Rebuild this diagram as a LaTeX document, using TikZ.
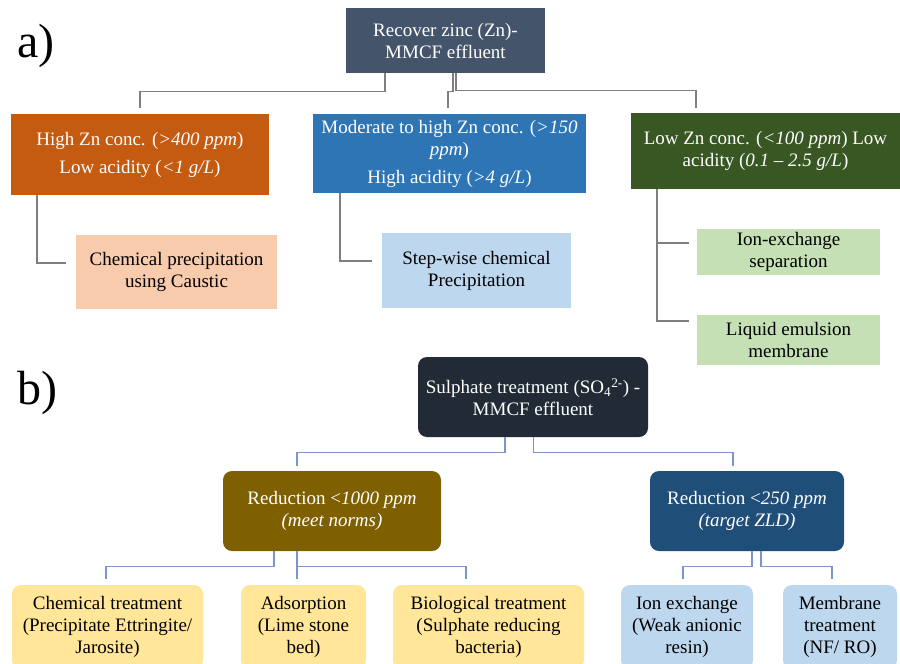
\documentclass[tikz,border=0pt]{standalone}
\usepackage{fontspec}
\setmainfont{Liberation Serif}
\definecolor{topA}{HTML}{44546A}
\definecolor{orangeA}{HTML}{C55A11}
\definecolor{blueA}{HTML}{2E75B6}
\definecolor{greenA}{HTML}{385723}
\definecolor{peach}{HTML}{F8CBAD}
\definecolor{lblue}{HTML}{BDD7EE}
\definecolor{lgreen}{HTML}{C5E0B4}
\definecolor{topB}{HTML}{222A35}
\definecolor{brownB}{HTML}{7F6000}
\definecolor{navyB}{HTML}{1F4E79}
\definecolor{yellowB}{HTML}{FFE699}
\definecolor{lineA}{HTML}{7F7F7F}
\definecolor{lineB}{HTML}{7D96C8}
\tikzset{
  box/.style={rectangle, inner sep=0pt, align=center, font=\fontsize{19}{22}\selectfont},
  darkbox/.style={box, text=white},
  lightbox/.style={box, text=black},
  rbox/.style={rounded corners=9pt},
  conA/.style={draw=lineA, line width=1.3pt},
  conB/.style={draw=lineB, line width=1.3pt},
  tag/.style={inner sep=0pt, font=\fontsize{48}{50}\selectfont}
}
\begin{document}
\begin{tikzpicture}[x=1pt,y=-1pt]
\fill[white] (0,0) rectangle (900,664);
\useasboundingbox (0,0) rectangle (900,664);

% ---------- part a ----------
\node[tag] (la) at (36,46) {a)};
\node[darkbox, fill=topA, minimum width=199pt, minimum height=65pt] (tA) at (445.5,40.5)
  {Recover zinc (Zn)-\\MMCF effluent};
\node[darkbox, fill=orangeA, minimum width=258pt, minimum height=81pt] (hiZn) at (140,154.5)
  {High Zn conc. (\textit{>400 ppm})\\[6pt]Low acidity (\textit{<1 g/L})};
\node[darkbox, fill=blueA, minimum width=273pt, minimum height=79pt] (modZn) at (449.5,153.5)
  {Moderate to high Zn conc. (\textit{>150}\\\textit{ppm})\\[6pt]High acidity (\textit{>4 g/L})};
\node[darkbox, fill=greenA, minimum width=269pt, minimum height=76pt] (lowZn) at (765.5,151)
  {Low Zn conc. (\textit{<100 ppm}) Low\\acidity (\textit{0.1 – 2.5 g/L})};
\node[lightbox, fill=peach, minimum width=201pt, minimum height=74pt] (chemP) at (176.5,272)
  {Chemical precipitation\\using Caustic};
\node[lightbox, fill=lblue, minimum width=189pt, minimum height=75pt] (stepP) at (476.5,270.5)
  {Step-wise chemical\\Precipitation};
\node[lightbox, fill=lgreen, minimum width=183pt, minimum height=46pt] (ionA) at (788.5,252)
  {Ion-exchange\\separation};
\node[lightbox, fill=lgreen, minimum width=183pt, minimum height=50pt] (lemA) at (788.5,340)
  {Liquid emulsion\\membrane};

\draw[conA] ([xshift=-60.5pt]tA.south) -- ++(0,18) -| ([yshift=6pt]hiZn.north);
\draw[conA] ([xshift=7.5pt]tA.south) -- ++(0,18) -| ([xshift=-1.5pt,yshift=6pt]modZn.north);
\draw[conA] ([xshift=10.5pt]tA.south) -- ++(0,17) -| ([xshift=-69.5pt,yshift=5pt]lowZn.north);
\draw[conA] ([xshift=-103pt]hiZn.south) |- ([xshift=-10pt,yshift=9pt]chemP.west);
\draw[conA] ([xshift=-109.5pt]modZn.south) |- ([xshift=-10pt,yshift=9.5pt]stepP.west);
\draw[conA] ([xshift=-108.5pt]lowZn.south) |- ([xshift=-8pt,yshift=9pt]ionA.west);
\draw[conA] ([xshift=-108.5pt]lowZn.south) |- ([xshift=-8pt,yshift=19pt]lemA.west);

% ---------- part b ----------
\node[tag] (lb) at (37,393) {b)};
\node[darkbox, rbox, fill=topB, minimum width=230pt, minimum height=80pt] (tB) at (533,397)
  {Sulphate treatment (SO\textsubscript{4}\textsuperscript{2-}) -\\MMCF effluent};
\node[darkbox, rbox, fill=brownB, minimum width=218pt, minimum height=80pt] (redA) at (332,511)
  {Reduction <\textit{1000 ppm}\\\textit{(meet norms)}};
\node[darkbox, rbox, fill=navyB, minimum width=194pt, minimum height=80pt] (redB) at (747,511)
  {Reduction <\textit{250 ppm}\\\textit{(target ZLD)}};
\node[lightbox, rbox, fill=yellowB, minimum width=191pt, minimum height=84pt] (chemT) at (107.5,627)
  {Chemical treatment\\(Precipitate Ettringite/\\Jarosite)};
\node[lightbox, rbox, fill=yellowB, minimum width=125pt, minimum height=84pt] (adsT) at (303.5,627)
  {Adsorption\\(Lime stone\\bed)};
\node[lightbox, rbox, fill=yellowB, minimum width=191pt, minimum height=84pt] (bioT) at (488.5,627)
  {Biological treatment\\(Sulphate reducing\\bacteria)};
\node[lightbox, rbox, fill=lblue, minimum width=132pt, minimum height=84pt] (ionT) at (687,627)
  {Ion exchange\\(Weak anionic\\resin)};
\node[lightbox, rbox, fill=lblue, minimum width=114pt, minimum height=84pt] (memT) at (840,627)
  {Membrane\\treatment\\(NF/ RO)};

\draw[conB] ([xshift=-28pt]tB.south) -- ++(0,15) -| ([xshift=-35pt,yshift=5pt]redA.north);
\draw[conB] ([xshift=0.5pt]tB.south) -- ++(0,15) -| ([xshift=-14pt,yshift=5pt]redB.north);
\draw[conB] ([xshift=-58pt]redA.south) -- ++(0,15) -| ([xshift=-1.5pt,yshift=6pt]chemT.north);
\draw[conB] ([xshift=-35pt]redA.south) -- ([xshift=-6.5pt,yshift=6pt]adsT.north);
\draw[conB] ([xshift=-35pt]redA.south) -- ++(0,15) -| ([xshift=-22.5pt,yshift=6pt]bioT.north);
\draw[conB] ([xshift=5pt]redB.south) -- ++(0,15) -| ([xshift=-4pt,yshift=6pt]ionT.north);
\draw[conB] ([xshift=14pt]redB.south) -- ++(0,15) -| ([xshift=-8pt,yshift=6pt]memT.north);
\end{tikzpicture}
\end{document}
